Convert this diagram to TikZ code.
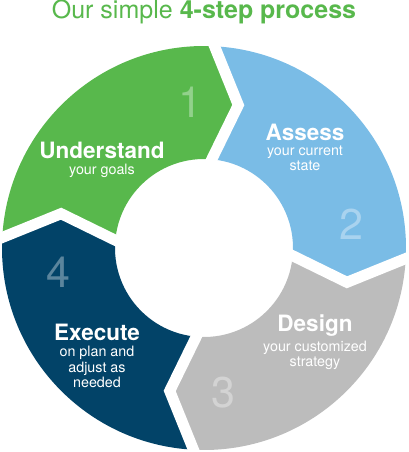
\documentclass[tikz,border=0pt]{standalone}
\usepackage{fontspec}
\setmainfont{TeX Gyre Heros}
\usepackage{tikz}
\usetikzlibrary{positioning}

\definecolor{stepgreen}{RGB}{88,184,76}
\definecolor{stepblue}{RGB}{122,188,230}
\definecolor{stepgray}{RGB}{188,188,188}
\definecolor{stepnavy}{RGB}{2,67,104}

\begin{document}
\begin{tikzpicture}[
  x=1pt, y=1pt,
  headline/.style={font=\bfseries\fontsize{22.5}{25}\selectfont, text=white, inner sep=0pt},
  subline/.style={font=\fontsize{14.3}{15.5}\selectfont, text=white, align=center, inner sep=0pt},
  stepnum/.style={font=\fontsize{43}{43}\selectfont, inner sep=0pt},
  gapline/.style={draw=white, line width=11pt, line join=miter}
]
\useasboundingbox (-204,-204) rectangle (204,248);

% ring segments, clockwise from the left
\foreach \a/\col in {178.5/stepgreen, 88.5/stepblue, -1.5/stepgray, -91.5/stepnavy}{
  \pgfmathsetmacro{\b}{\a-90}
  \pgfmathsetmacro{\ta}{\a-12}
  \pgfmathsetmacro{\tb}{\b-12}
  \fill[\col] (\b:202) -- (\tb:147) -- (\b:89)
    arc[start angle=\b, end angle=\a, radius=89]
    -- (\ta:147) -- (\a:202)
    arc[start angle=\a, end angle=\b, radius=202] -- cycle;
}
\foreach \a in {178.5, 88.5, -1.5, -91.5}{
  \pgfmathsetmacro{\ta}{\a-12}
  \draw[gapline] (\a:214) -- (\ta:147) -- (\a:77);
}

\node[font=\fontsize{25}{28}\selectfont, text=stepgreen, inner sep=0pt] (title) at (0,236)
  {Our simple \textbf{4-step process}};

\node[stepnum, text=white!35!stepgreen] (n1) at (-14,146) {1};
\node[stepnum, text=white!35!stepblue]  (n2) at (147,24)  {2};
\node[stepnum, text=white!35!stepgray]  (n3) at (19,-145) {3};
\node[stepnum, text=white!35!stepnavy]  (n4) at (-146,-24) {4};

\node[headline] (und) at (-102,97.5) {Understand};
\node[subline, below=5pt of und] (undsub) {your goals};
\node[headline] (ass) at (101,116) {Assess};
\node[subline, below=5pt of ass] (asssub) {your current\\ state};
\node[headline] (des) at (111,-77.5) {Design};
\node[subline, below=4pt of des] (dessub) {your customized\\ strategy};
\node[headline] (exe) at (-107,-84.5) {Execute};
\node[subline, below=5pt of exe] (exesub) {on plan and\\ adjust as\\ needed};
\end{tikzpicture}
\end{document}
